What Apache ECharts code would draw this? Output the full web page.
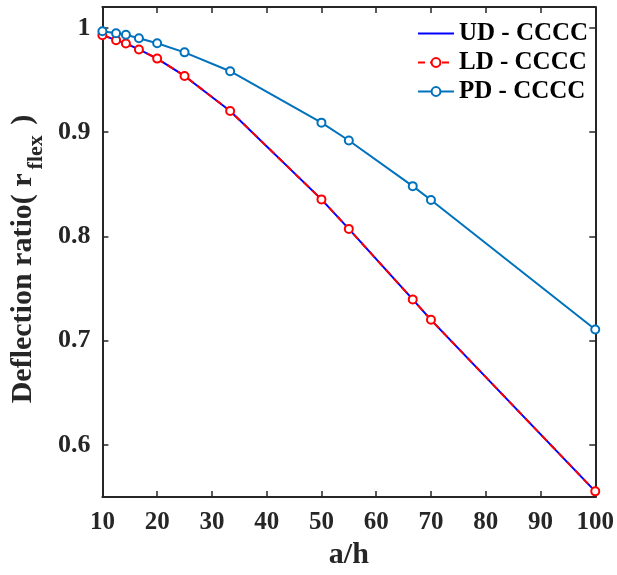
<!DOCTYPE html>
<html>
<head>
<meta charset="utf-8">
<script src="https://cdn.jsdelivr.net/npm/echarts@6/dist/echarts.min.js"></script>
<style>html,body{margin:0;padding:0;background:#fff}#c{width:617px;height:575px}</style>
</head>
<body>
<div id="c"></div>
<script>
const aOverH = [10, 12.5, 14.29, 16.67, 20, 25, 33.33, 50, 55, 66.67, 70, 100];
const udValues = [0.993, 0.9882, 0.985, 0.9793, 0.9705, 0.9539, 0.9203, 0.8355, 0.8072, 0.7396, 0.72, 0.5555];
const ldValues = [0.993, 0.9882, 0.985, 0.9793, 0.9705, 0.9539, 0.9203, 0.8355, 0.8072, 0.7396, 0.72, 0.5555];
const pdValues = [0.9968, 0.9949, 0.9934, 0.9901, 0.9853, 0.9765, 0.9584, 0.9091, 0.892, 0.8482, 0.8349, 0.7107];
const seriesNames = ['UD - CCCC', 'LD - CCCC', 'PD - CCCC'];
const yTicks = [0.6, 0.7, 0.8, 0.9, 1];

const FONT = 'Liberation Serif';
const AX = '#262626';
const pairs = v => aOverH.map((x, i) => [x, v[i]]);

const chart = echarts.init(document.getElementById('c'), null, {renderer: 'canvas'});
const axisLineStyle = {show: true, lineStyle: {color: AX, width: 2}};
const tickStyle = {show: true, inside: true, length: 6, lineStyle: {color: AX, width: 1.5}};

chart.setOption({
  animation: false,
  backgroundColor: '#fff',
  grid: {left: 101, right: 21, top: 7, bottom: 74, containLabel: false},
  legend: {
    left: 412, top: 16, orient: 'vertical',
    itemWidth: 36, itemHeight: 11, itemGap: 4,
    textStyle: {fontFamily: FONT, fontWeight: 'bold', fontSize: 25, color: '#000', lineHeight: 24},
    data: [
      {name: seriesNames[0], itemStyle: {opacity: 0}},
      {name: seriesNames[1]},
      {name: seriesNames[2]}
    ]
  },
  xAxis: [{
    type: 'value', min: 10, max: 100, interval: 10, position: 'bottom',
    name: 'a/h', nameLocation: 'middle', nameGap: 40,
    nameTextStyle: {fontFamily: FONT, fontWeight: 'bold', fontSize: 30, color: '#262626'},
    axisLine: axisLineStyle, axisTick: tickStyle,
    axisLabel: {margin: 13, fontFamily: FONT, fontWeight: 'bold', fontSize: 25, color: '#262626'},
    splitLine: {show: false}
  }, {
    type: 'value', min: 10, max: 100, interval: 10, position: 'top',
    axisLine: axisLineStyle, axisTick: tickStyle, axisLabel: {show: false}, splitLine: {show: false}
  }],
  yAxis: [{
    type: 'value', min: 0.55, max: 1.02, position: 'left',
    name: '{m|Deflection ratio( r}{s|flex}{m| )}', nameLocation: 'middle', nameGap: 50, nameRotate: 90,
    nameTextStyle: {
      fontFamily: FONT, fontWeight: 'bold', fontSize: 30, color: '#262626',
      padding: [0, 14, 0, 0],
      rich: {
        m: {fontFamily: FONT, fontWeight: 'bold', fontSize: 30, color: '#262626', verticalAlign: 'bottom', padding: [0, 0, 9, 0]},
        s: {fontFamily: FONT, fontWeight: 'bold', fontSize: 22, color: '#262626', verticalAlign: 'bottom', padding: [0, 3, 0, 4]}
      }
    },
    axisLine: axisLineStyle,
    axisTick: Object.assign({}, tickStyle, {customValues: yTicks}),
    axisLabel: {customValues: yTicks, margin: 12, fontFamily: FONT, fontWeight: 'bold', fontSize: 26, color: '#262626'},
    splitLine: {show: false}
  }, {
    type: 'value', min: 0.55, max: 1.02, position: 'right',
    axisLine: axisLineStyle,
    axisTick: Object.assign({}, tickStyle, {customValues: yTicks}),
    axisLabel: {show: false}, splitLine: {show: false}
  }],
  series: [{
    name: seriesNames[0], type: 'line', data: pairs(udValues),
    showSymbol: false, symbol: 'circle', symbolSize: 0,
    lineStyle: {color: '#0000FF', width: 2}, itemStyle: {color: '#0000FF'}
  }, {
    name: seriesNames[1], type: 'line', data: pairs(ldValues),
    symbol: 'emptyCircle', symbolSize: 8, showAllSymbol: true,
    lineStyle: {color: '#FF0000', width: 2, type: [7, 5]},
    itemStyle: {color: '#FF0000', borderColor: '#FF0000', borderWidth: 2}
  }, {
    name: seriesNames[2], type: 'line', data: pairs(pdValues),
    symbol: 'emptyCircle', symbolSize: 8, showAllSymbol: true,
    lineStyle: {color: '#0072BD', width: 2},
    itemStyle: {color: '#0072BD', borderColor: '#0072BD', borderWidth: 2}
  }]
});
</script>
</body>
</html>
